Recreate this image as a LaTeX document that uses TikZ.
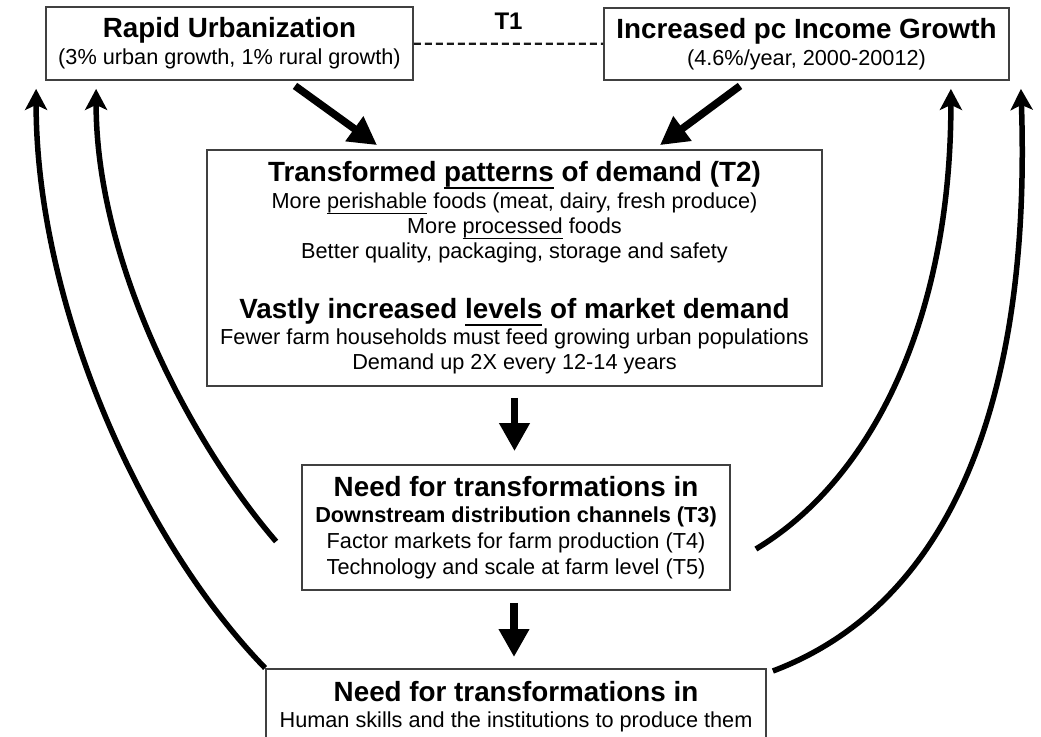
\documentclass[tikz,border=0pt]{standalone}
\usepackage{fontspec}
\setmainfont{Liberation Sans}
\usetikzlibrary{
    positioning,  % Relative positioning
    arrows.meta,  % Modern arrow tips
    calc          % Coordinate calculations
}
\newcommand{\headfont}{\fontsize{27.8pt}{32pt}\selectfont\bfseries}
\newcommand{\bodyfont}{\fontsize{21.7pt}{25pt}\selectfont}
\newcommand{\uword}[1]{\sbox0{#1}\rlap{\rule[-0.26em]{\wd0}{0.07em}}\usebox0}

\tikzset{
    box/.style={draw=black!75, line width=1.8pt, align=center, font=\bodyfont, inner sep=0pt},
    flow/.style={line width=7.5pt, -{Triangle[length=28pt,width=29pt]}},
    loopback/.style={line width=5.5pt, -{Stealth[length=21pt,width=22pt,inset=5pt]}},
    tie/.style={draw=black!90, line width=2.2pt, dash pattern=on 7pt off 4pt}
}

\begin{document}
\begin{tikzpicture}[x=1pt,y=-1pt]
    \useasboundingbox (0,0) rectangle (1041,736);
    % boxes
    \node[box, minimum width=367pt, minimum height=73pt] (urban) at (229.5,43.5)
        {{\headfont Rapid Urbanization}\\[2pt] (3\% urban growth, 1\% rural growth)};
    \node[box, minimum width=405pt, minimum height=72pt] (income) at (806.5,44)
        {{\headfont Increased pc Income Growth}\\[2pt] (4.6\%/year, 2000-20012)};
    \node[box, minimum width=615pt, minimum height=236pt] (demand) at (514.5,268)
        {{\headfont Transformed \uword{patterns} of demand (T2)}\\[2pt]
         More \uword{perishable} foods (meat, dairy, fresh produce)\\
         More \uword{processed} foods\\
         Better quality, packaging, storage and safety\\[35pt]
         {\headfont Vastly increased \uword{levels} of market demand}\\[1pt]
         Fewer farm households must feed growing urban populations\\
         Demand up 2X every 12-14 years};
    \node[box, minimum width=428pt, minimum height=125pt] (needs) at (516,527.5)
        {{\headfont Need for transformations in}\\[1pt]
         {\bfseries Downstream distribution channels (T3)}\\[1pt]
         Factor markets for farm production (T4)\\[1pt]
         Technology and scale at farm level (T5)};
    \node[box, anchor=north, minimum width=500pt, inner ysep=12pt] (skills) at (516,668)
        {{\headfont Need for transformations in}\\[1pt]
         Human skills and the institutions to produce them};

    % T1 link
    \draw[tie] (urban) -- node[above=10pt, font=\fontsize{24pt}{28pt}\selectfont\bfseries, inner sep=3.33pt] (tone) {T1} (income);

    % main flow
    \draw[flow] ($(urban.south)+(65.5,5)$) -- ($(demand.north)+(-137.5,-4)$);
    \draw[flow] ($(income.south)+(-66.5,5)$) -- ($(demand.north)+(145.5,-4)$);
    \draw[flow] ($(demand.south)+(0,11)$) -- ($(demand.south |- needs.north)+(0,-13)$);
    \draw[flow] ($(needs.south)+(-2,12)$) -- ($(needs.south |- skills.north)+(-2,-11)$);

    % feedback loops
    \draw[loopback] (skills.north west) .. controls +(-127,-131) and +(0,212) .. ($(urban.south west)+(-9,8)$);
    \draw[loopback] ($(needs.west)+(-25,14)$) .. controls +(-87,-101) and +(0,172) .. ($(urban.south west)+(51,8)$);
    \draw[loopback] ($(needs.east)+(25,21.5)$) .. controls +(115,-69) and +(0,232) .. ($(income.south east)+(-59,8)$);
    \draw[loopback] ($(skills.north east)+(6,3)$) .. controls +(188,-71) and +(10,292) .. ($(income.south east)+(11,8)$);
\end{tikzpicture}
\end{document}
